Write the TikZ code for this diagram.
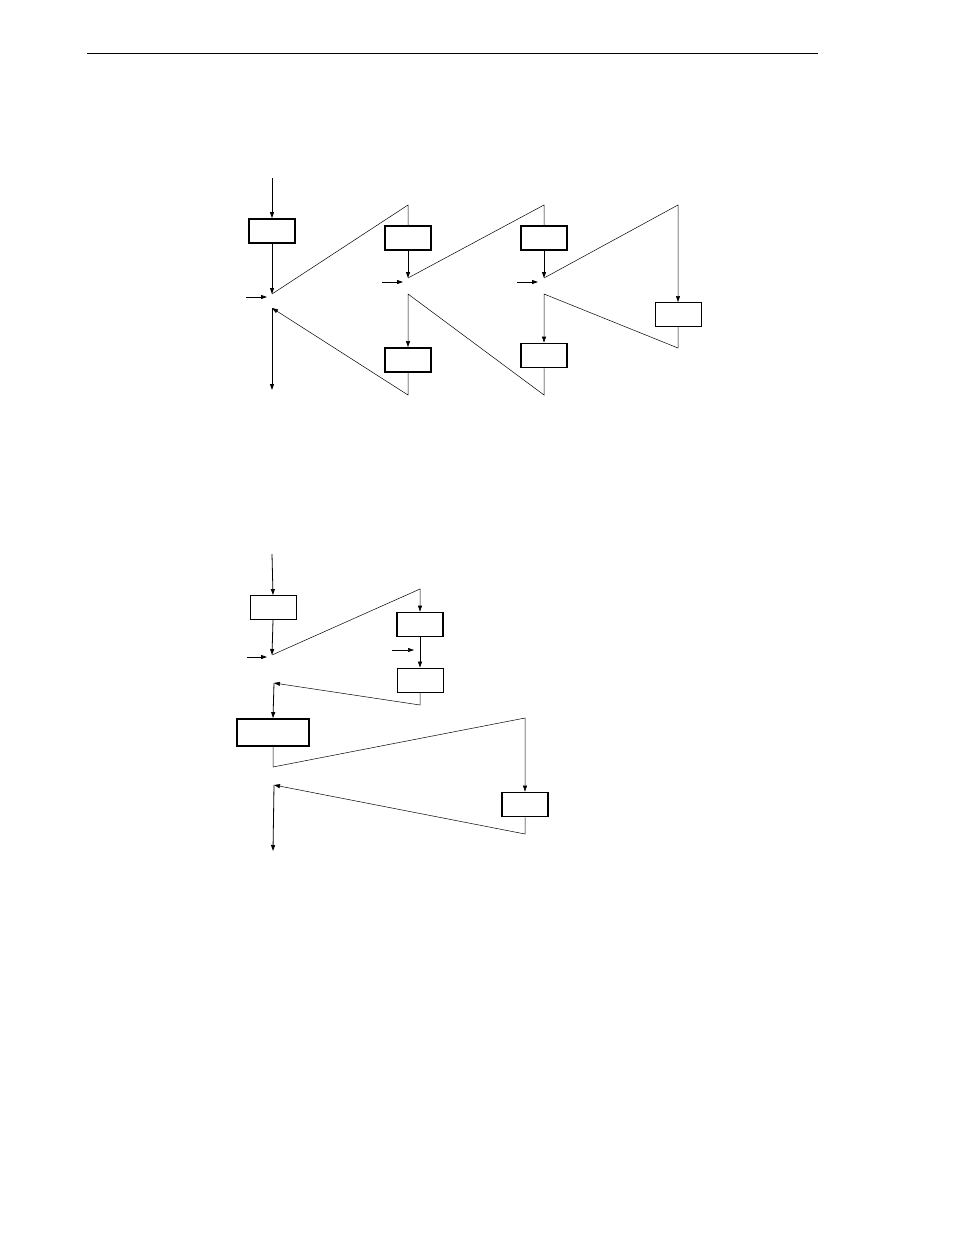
\documentclass[tikz,border=0pt]{standalone}
\usetikzlibrary{arrows.meta}
\begin{document}
\begin{tikzpicture}[x=1pt,y=-1pt,
  boxbase/.style={draw,inner sep=0pt,minimum width=46pt,minimum height=24pt},
  thickbox/.style={boxbase,line width=1.8pt},
  thinbox/.style={boxbase,line width=0.9pt},
  flow/.style={line width=0.8pt,-{Triangle[length=6pt,width=4pt]}},
  back/.style={line width=0.5pt},
  backarrow/.style={line width=0.5pt,-{Triangle[length=6pt,width=4pt]}},
  rule/.style={line width=1pt}]
\useasboundingbox (0,0) rectangle (954,1235);
% header rule
\coordinate (hl) at (87,53);
\coordinate (hr) at (818,53);
\draw[rule] (hl) -- (hr);

% ---------- top diagram ----------
\coordinate (t0) at (272,178);
\node[thickbox] (b1) at (272,231) {};
\coordinate (j1) at (272,294);
\coordinate (s1) at (246,297);
\coordinate (s1e) at (267,297);
\coordinate (p1) at (408,205);
\node[thickbox] (b2) at (408,238) {};
\coordinate (j2) at (408,278);
\coordinate (s2) at (382,282);
\coordinate (s2e) at (403,282);
\coordinate (p2) at (544,205);
\node[thickbox] (b3) at (544,238) {};
\coordinate (j3) at (544,278);
\coordinate (s3) at (517,282);
\coordinate (s3e) at (538,282);
\coordinate (p3) at (678,205);
\node[thinbox] (b4) at (678,314.5) {};
\coordinate (q4) at (678,348);
\coordinate (r3) at (544,294);
\node[thickbox] (b5) at (544,355.5) {};
\coordinate (q5) at (544,395);
\coordinate (r2) at (408,294);
\node[thickbox] (b6) at (408,360) {};
\coordinate (q6) at (408,395);
\coordinate (r1) at (272,308);
\coordinate (t9) at (272,390);

\draw[flow] (t0) -- (b1.north);
\draw[flow] (b1.south) -- (j1);
\draw[flow] (s1) -- (s1e);
\draw[back] (j1) -- (p1) -- (b2.north);
\draw[flow] (b2.south) -- (j2);
\draw[flow] (s2) -- (s2e);
\draw[back] (j2) -- (p2) -- (b3.north);
\draw[flow] (b3.south) -- (j3);
\draw[flow] (s3) -- (s3e);
\draw[backarrow] (j3) -- (p3) -- (b4.north);
\draw[backarrow] (b4.south) -- (q4) -- (r3) -- (b5.north);
\draw[backarrow] (b5.south) -- (q5) -- (r2) -- (b6.north);
\draw[backarrow] (b6.south) -- (q6) -- (r1);
\draw[flow] (r1) -- (t9);

% ---------- bottom diagram ----------
\coordinate (u0) at (272,554);
\node[thinbox] (bA) at (273,607.5) {};
\coordinate (k1) at (272,655);
\coordinate (s4) at (247,657);
\coordinate (s4e) at (267,657);
\coordinate (m1) at (420,589);
\node[thickbox] (bB) at (420,624.5) {};
\node[thinbox] (bC) at (420,680) {};
\coordinate (s5) at (392,650);
\coordinate (s5e) at (414,650);
\coordinate (n1) at (420,705);
\coordinate (k2) at (274,683);
\node[thickbox,minimum width=72pt,minimum height=27pt] (bD) at (273,732.5) {};
\coordinate (n2) at (273,767);
\coordinate (m2) at (525,718);
\node[thickbox] (bE) at (525,804.5) {};
\coordinate (n3) at (525,834);
\coordinate (k3) at (274,785);
\coordinate (u9) at (273,851);

\draw[flow] (u0) -- (bA.north);
\draw[flow] (bA.south) -- (k1);
\draw[flow] (s4) -- (s4e);
\draw[backarrow] (k1) -- (m1) -- (bB.north);
\draw[flow] (bB.south) -- (bC.north);
\draw[backarrow] (s5) -- (s5e);
\draw[backarrow] (bC.south) -- (n1) -- (k2);
\draw[flow] (k2) -- (bD.north);
\draw[backarrow] (bD.south) -- (n2) -- (m2) -- (bE.north);
\draw[backarrow] (bE.south) -- (n3) -- (k3);
\draw[flow] (k3) -- (u9);
\end{tikzpicture}
\end{document}
